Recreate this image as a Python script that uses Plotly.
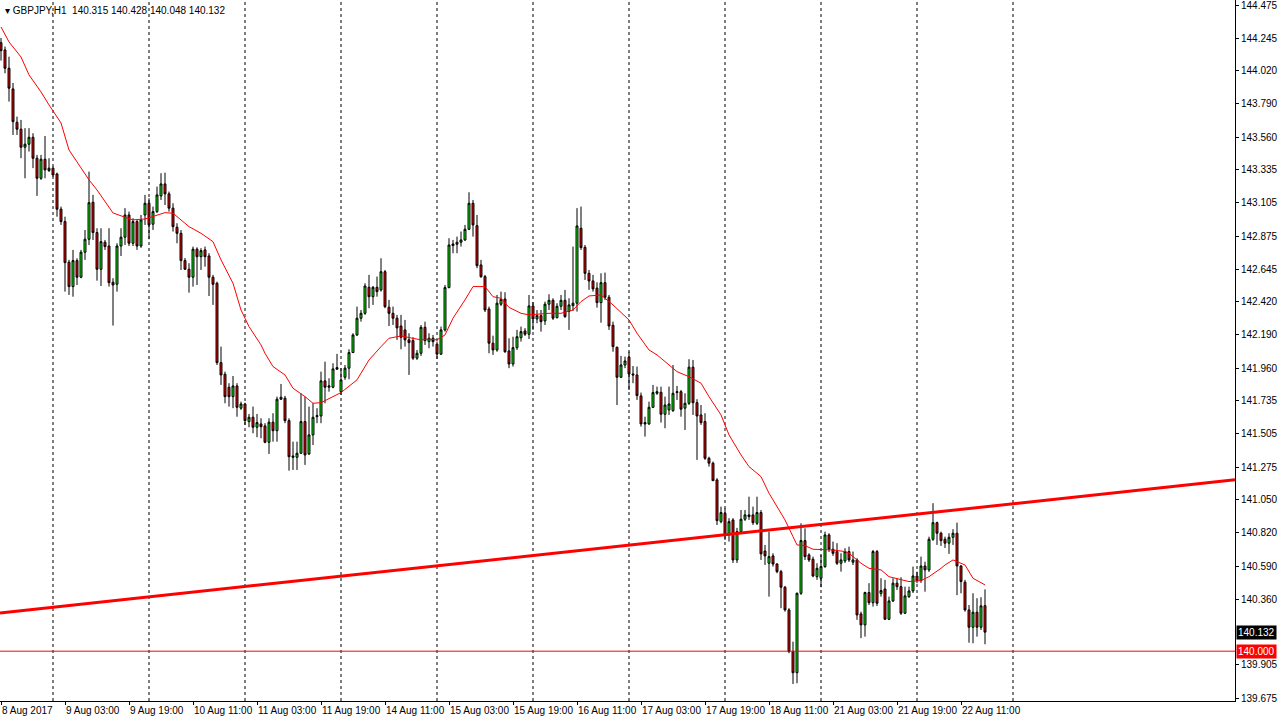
import plotly.graph_objects as go
import pandas as pd

# ---------------- data (GBPJPY, H1) ----------------
opens = [
    144.214, 144.164, 144.037, 143.894, 143.663, 143.615, 143.490, 143.511, 143.559, 143.414,
    143.275, 143.407, 143.328, 143.345, 143.305, 143.061, 142.975, 142.694, 142.525, 142.705,
    142.590, 142.763, 142.853, 143.109, 142.899, 142.645, 142.832, 142.806, 142.555, 142.541,
    142.806, 142.867, 143.021, 142.825, 142.975, 142.806, 143.021, 143.102, 142.957, 143.044,
    143.153, 143.236, 143.167, 143.068, 142.936, 142.894, 142.705, 142.645, 142.590, 142.784,
    142.732, 142.779, 142.737, 142.590, 142.548, 141.998, 141.918, 141.828, 141.763, 141.837,
    141.683, 141.712, 141.590, 141.620, 141.551, 141.574, 141.560, 141.447, 141.586, 141.527,
    141.745, 141.752, 141.597, 141.352, 141.343, 141.371, 141.590, 141.366, 141.498, 141.624,
    141.629, 141.872, 141.828, 141.828, 141.964, 141.797, 141.897, 141.960, 142.068, 142.190,
    142.306, 142.340, 142.520, 142.455, 142.520, 142.502, 142.628, 142.382, 142.340, 142.306,
    142.252, 142.225, 142.156, 142.151, 142.029, 142.063, 142.243, 142.144, 142.167, 142.126,
    142.057, 142.225, 142.518, 142.809, 142.818, 142.832, 142.848, 142.922, 143.102, 142.947,
    142.675, 142.594, 142.370, 142.133, 142.086, 142.403, 142.439, 142.079, 141.989, 142.102,
    142.171, 142.218, 142.195, 142.391, 142.301, 142.324, 142.287, 142.403, 142.430, 142.310,
    142.389, 142.430, 142.352, 142.393, 142.410, 142.929, 142.797, 142.617, 142.564, 142.514,
    142.414, 142.552, 142.451, 142.257, 142.105, 141.897, 141.982, 142.036, 141.920, 141.913,
    141.768, 141.583, 141.574, 141.689, 141.786, 141.793, 141.641, 141.671, 141.666, 141.791,
    141.797, 141.683, 141.717, 141.967, 141.721, 141.636, 141.590, 141.336, 141.302, 141.186,
    140.897, 140.955, 140.805, 140.909, 140.632, 140.828, 140.914, 140.932, 140.944, 140.886,
    140.960, 140.694, 140.609, 140.660, 140.604, 140.551, 140.443, 140.286, 139.997, 139.851,
    140.401, 140.766, 140.667, 140.637, 140.516, 140.505, 140.586, 140.805, 140.706, 140.690,
    140.609, 140.625, 140.690, 140.616, 140.632, 140.258, 140.182, 140.406, 140.336, 140.690,
    140.400, 140.431, 140.221, 140.348, 140.471, 140.447, 140.263, 140.378, 140.417, 140.521,
    140.489, 140.590, 140.563, 140.775, 140.890, 140.817, 140.775, 140.748, 140.789, 140.817,
    140.590, 140.478, 140.286, 140.166, 140.270, 140.166, 140.315,
]
highs = [
    144.247, 144.187, 144.117, 143.935, 143.702, 143.679, 143.622, 143.622, 143.587, 143.437,
    143.437, 143.568, 143.414, 143.356, 143.314, 143.079, 143.009, 142.710, 142.779, 142.721,
    142.779, 142.917, 143.321, 143.160, 142.929, 142.929, 142.848, 142.929, 142.583, 142.825,
    142.929, 143.068, 143.044, 142.998, 142.987, 143.021, 143.160, 143.137, 143.079, 143.217,
    143.310, 143.314, 143.183, 143.102, 142.964, 142.917, 142.723, 142.687, 142.802, 142.797,
    142.791, 142.802, 142.756, 142.606, 142.559, 142.109, 141.936, 141.856, 141.906, 141.856,
    141.728, 141.721, 141.643, 141.694, 141.643, 141.613, 141.579, 141.613, 141.648, 141.763,
    141.851, 141.768, 141.613, 141.451, 141.451, 141.786, 141.763, 141.694, 141.717, 141.683,
    141.936, 142.005, 141.890, 141.994, 142.059, 141.960, 141.982, 142.091, 142.202, 142.386,
    142.363, 142.548, 142.606, 142.529, 142.594, 142.721, 142.640, 142.433, 142.386, 142.329,
    142.329, 142.294, 142.202, 142.174, 142.086, 142.259, 142.282, 142.202, 142.190, 142.144,
    142.248, 142.536, 142.860, 142.848, 142.871, 142.906, 142.952, 143.178, 143.125, 143.021,
    142.710, 142.606, 142.386, 142.185, 142.467, 142.490, 142.486, 142.167, 142.178, 142.225,
    142.248, 142.237, 142.467, 142.417, 142.363, 142.363, 142.421, 142.472, 142.444, 142.410,
    142.467, 142.502, 142.444, 142.802, 143.068, 143.079, 142.813, 142.640, 142.606, 142.555,
    142.617, 142.622, 142.467, 142.282, 142.109, 142.045, 142.040, 142.074, 141.975, 141.971,
    141.791, 141.624, 141.728, 141.844, 141.832, 141.832, 141.763, 141.832, 141.982, 141.837,
    141.809, 141.786, 142.022, 142.017, 141.745, 141.705, 141.648, 141.347, 141.313, 141.198,
    141.001, 140.990, 140.921, 140.921, 140.854, 140.978, 140.978, 141.070, 141.001, 141.070,
    140.978, 140.736, 140.828, 140.678, 140.609, 140.563, 140.452, 140.298, 140.066, 140.406,
    140.886, 140.851, 140.678, 140.655, 140.609, 140.667, 140.828, 140.817, 140.759, 140.748,
    140.678, 140.713, 140.724, 140.690, 140.644, 140.274, 140.412, 140.471, 140.701, 140.701,
    140.505, 140.494, 140.378, 140.505, 140.505, 140.512, 140.447, 140.447, 140.586, 140.551,
    140.655, 140.620, 140.793, 141.025, 140.897, 140.828, 140.793, 140.817, 140.845, 140.890,
    140.597, 140.494, 140.320, 140.401, 140.367, 140.374, 140.428,
]
lows = [
    144.090, 144.002, 143.806, 143.575, 143.575, 143.414, 143.275, 143.460, 143.345, 143.153,
    143.264, 143.275, 143.319, 143.286, 143.009, 142.952, 142.490, 142.467, 142.455, 142.536,
    142.583, 142.710, 142.813, 142.848, 142.566, 142.529, 142.779, 142.525, 142.255, 142.490,
    142.737, 142.813, 142.806, 142.806, 142.779, 142.793, 142.952, 142.853, 142.917, 143.035,
    143.125, 143.090, 143.044, 142.906, 142.825, 142.640, 142.640, 142.483, 142.525, 142.536,
    142.640, 142.663, 142.460, 142.398, 141.982, 141.844, 141.717, 141.694, 141.683, 141.624,
    141.671, 141.567, 141.551, 141.509, 141.482, 141.475, 141.440, 141.366, 141.451, 141.451,
    141.740, 141.579, 141.250, 141.255, 141.255, 141.366, 141.290, 141.359, 141.428, 141.579,
    141.579, 141.717, 141.797, 141.821, 141.948, 141.775, 141.879, 141.883, 142.066, 142.183,
    142.282, 142.329, 142.375, 142.398, 142.455, 142.490, 142.375, 142.252, 142.259, 142.156,
    142.091, 142.109, 141.913, 142.017, 142.017, 142.045, 142.121, 142.098, 142.109, 142.024,
    142.052, 142.213, 142.513, 142.756, 142.756, 142.802, 142.841, 142.917, 142.871, 142.652,
    142.585, 142.349, 142.063, 142.052, 142.074, 142.391, 142.066, 141.960, 141.971, 142.086,
    142.144, 142.183, 142.162, 142.225, 142.271, 142.213, 142.259, 142.363, 142.294, 142.304,
    142.363, 142.308, 142.225, 142.356, 142.352, 142.779, 142.571, 142.502, 142.490, 142.379,
    142.275, 142.433, 142.225, 142.074, 141.705, 141.892, 141.960, 141.809, 141.856, 141.740,
    141.555, 141.486, 141.567, 141.685, 141.775, 141.583, 141.544, 141.636, 141.657, 141.740,
    141.624, 141.532, 141.705, 141.636, 141.325, 141.567, 141.325, 141.278, 141.179, 140.874,
    140.886, 140.771, 140.759, 140.611, 140.611, 140.817, 140.902, 140.909, 140.874, 140.874,
    140.632, 140.597, 140.378, 140.586, 140.540, 140.298, 140.274, 139.986, 139.773, 139.778,
    140.390, 140.632, 140.618, 140.512, 140.494, 140.443, 140.577, 140.687, 140.660, 140.597,
    140.551, 140.611, 140.618, 140.597, 140.217, 140.090, 140.101, 140.320, 140.309, 140.313,
    140.378, 140.217, 140.217, 140.341, 140.424, 140.251, 140.258, 140.369, 140.403, 140.471,
    140.473, 140.412, 140.549, 140.764, 140.736, 140.729, 140.715, 140.674, 140.736, 140.388,
    140.401, 140.274, 140.059, 140.055, 140.101, 140.147, 140.048,
]
closes = [
    144.159, 144.037, 143.899, 143.667, 143.615, 143.490, 143.511, 143.559, 143.414, 143.275,
    143.407, 143.333, 143.345, 143.298, 143.061, 142.975, 142.691, 142.525, 142.705, 142.590,
    142.763, 142.853, 143.106, 142.899, 142.645, 142.836, 142.802, 142.552, 142.536, 142.806,
    142.867, 143.021, 142.825, 142.975, 142.806, 142.987, 143.102, 142.952, 143.044, 143.160,
    143.236, 143.167, 143.068, 142.940, 142.894, 142.705, 142.645, 142.590, 142.784, 142.732,
    142.774, 142.732, 142.590, 142.541, 141.998, 141.913, 141.763, 141.763, 141.837, 141.689,
    141.712, 141.597, 141.620, 141.551, 141.583, 141.555, 141.447, 141.586, 141.527, 141.745,
    141.759, 141.597, 141.347, 141.343, 141.371, 141.590, 141.359, 141.498, 141.620, 141.631,
    141.872, 141.828, 141.837, 141.955, 141.953, 141.879, 141.960, 142.068, 142.190, 142.306,
    142.340, 142.529, 142.455, 142.520, 142.490, 142.628, 142.386, 142.340, 142.306, 142.239,
    142.174, 142.156, 142.137, 142.029, 142.063, 142.243, 142.151, 142.167, 142.144, 142.057,
    142.225, 142.518, 142.813, 142.820, 142.832, 142.848, 142.922, 143.102, 142.952, 142.670,
    142.594, 142.363, 142.133, 142.086, 142.410, 142.437, 142.074, 141.989, 142.102, 142.178,
    142.213, 142.195, 142.391, 142.301, 142.324, 142.282, 142.403, 142.430, 142.306, 142.389,
    142.430, 142.317, 142.398, 142.410, 142.945, 142.795, 142.617, 142.564, 142.509, 142.414,
    142.552, 142.451, 142.252, 142.109, 141.897, 141.982, 142.010, 141.920, 141.913, 141.770,
    141.574, 141.574, 141.689, 141.791, 141.797, 141.641, 141.705, 141.712, 141.786, 141.797,
    141.676, 141.717, 141.967, 141.721, 141.629, 141.583, 141.336, 141.302, 141.181, 140.904,
    140.960, 140.805, 140.897, 140.632, 140.828, 140.914, 140.944, 140.944, 140.890, 140.960,
    140.674, 140.660, 140.655, 140.604, 140.551, 140.443, 140.286, 139.997, 139.851, 140.401,
    140.766, 140.655, 140.632, 140.521, 140.574, 140.586, 140.805, 140.706, 140.678, 140.609,
    140.632, 140.690, 140.632, 140.632, 140.251, 140.182, 140.406, 140.336, 140.690, 140.332,
    140.420, 140.221, 140.348, 140.471, 140.447, 140.263, 140.383, 140.417, 140.521, 140.489,
    140.590, 140.563, 140.775, 140.890, 140.817, 140.766, 140.748, 140.789, 140.817, 140.590,
    140.482, 140.286, 140.166, 140.270, 140.166, 140.314, 140.132,
]

# moving average: (bar number, value)
ma_bar = [0, 2, 5, 7, 10, 12, 15, 17, 20, 22, 24, 26, 28, 31, 33, 36, 38, 41, 43, 45, 47, 50, 53, 55, 58,
          60, 62, 65, 66, 68, 71, 73, 76, 78, 80, 83, 85, 89, 92, 95, 97, 100, 102, 105, 107, 109, 111,
          113, 116, 118, 121, 123, 125, 127, 130, 132, 137, 140, 143, 145, 147, 150, 153, 157, 159, 162,
          164, 167, 169, 172, 175, 177, 180, 182, 185, 187, 190, 192, 196, 198, 199, 201, 203, 208, 211,
          212, 215, 217, 220, 222, 225, 227, 230, 232, 235, 236, 238, 241, 243, 246]
ma_val = [144.323, 144.219, 144.115, 143.991, 143.873, 143.783, 143.658, 143.471, 143.347, 143.264,
          143.194, 143.113, 143.035, 143.005, 142.987, 142.993, 143.009, 143.037, 143.033, 142.987,
          142.940, 142.894, 142.836, 142.710, 142.548, 142.363, 142.248, 142.121, 142.063, 141.971,
          141.913, 141.821, 141.763, 141.717, 141.721, 141.763, 141.791, 141.879, 142.017, 142.109,
          142.167, 142.183, 142.174, 142.156, 142.160, 142.156, 142.190, 142.306, 142.433, 142.525,
          142.525, 142.455, 142.444, 142.381, 142.340, 142.329, 142.340, 142.340, 142.363, 142.421,
          142.460, 142.467, 142.398, 142.294, 142.202, 142.086, 142.052, 141.982, 141.936, 141.901,
          141.856, 141.763, 141.636, 141.498, 141.359, 141.278, 141.209, 141.094, 140.909, 140.793,
          140.736, 140.731, 140.706, 140.701, 140.690, 140.678, 140.609, 140.574, 140.563, 140.516,
          140.494, 140.482, 140.489, 140.516, 140.574, 140.597, 140.632, 140.597, 140.505, 140.459]

# trend line anchors (first bar, last bar) and horizontal level
trend_prices = [140.266, 141.000]
level_price = 140.000

y_tick_vals = [144.475, 144.245, 144.020, 143.790, 143.560, 143.335, 143.105, 142.875, 142.645,
               142.420, 142.190, 141.960, 141.735, 141.505, 141.275, 141.050, 140.820, 140.590,
               140.360, 139.905, 139.675]
y_tick_text = ["%.3f" % v for v in y_tick_vals]

x_tick_times = ["2017-08-08 11:00", "2017-08-09 03:00", "2017-08-09 19:00", "2017-08-10 11:00",
                "2017-08-11 03:00", "2017-08-11 19:00", "2017-08-14 11:00", "2017-08-15 03:00",
                "2017-08-15 19:00", "2017-08-16 11:00", "2017-08-17 03:00", "2017-08-17 19:00",
                "2017-08-18 11:00", "2017-08-21 03:00", "2017-08-21 19:00", "2017-08-22 11:00"]
x_tick_text = ["8 Aug 2017", "9 Aug 03:00", "9 Aug 19:00", "10 Aug 11:00", "11 Aug 03:00",
               "11 Aug 19:00", "14 Aug 11:00", "15 Aug 03:00", "15 Aug 19:00", "16 Aug 11:00",
               "17 Aug 03:00", "17 Aug 19:00", "18 Aug 11:00", "21 Aug 03:00", "21 Aug 19:00",
               "22 Aug 11:00"]
separator_days = ["2017-08-09", "2017-08-10", "2017-08-11", "2017-08-14", "2017-08-15",
                  "2017-08-16", "2017-08-17", "2017-08-18", "2017-08-21", "2017-08-22", "2017-08-23"]

# ---------------- bar timeline (hourly, trading days only) ----------------
bar_times = pd.date_range("2017-08-08 11:00", "2017-08-25 23:00", freq="h")
bar_times = bar_times[bar_times.dayofweek < 5]
pos = {t: i for i, t in enumerate(bar_times)}
n = len(opens)
bars = list(range(n))

x_lo, x_hi = -0.25, 308.5
y_lo, y_hi = 139.6551, 144.5096

fig = go.Figure()

fig.add_trace(go.Candlestick(
    x=bars, open=opens, high=highs, low=lows, close=closes,
    increasing=dict(line=dict(color="black", width=1), fillcolor="#00FF00"),
    decreasing=dict(line=dict(color="black", width=1), fillcolor="#FF0000"),
    whiskerwidth=0, hoverinfo="skip", showlegend=False,
))

fig.add_trace(go.Scatter(x=ma_bar, y=ma_val, mode="lines",
                         line=dict(color="#FF0000", width=1), hoverinfo="skip", showlegend=False))

slope = (trend_prices[1] - trend_prices[0]) / (n - 1)
fig.add_trace(go.Scatter(
    x=[x_lo, x_hi],
    y=[trend_prices[0] + slope * x_lo, trend_prices[0] + slope * x_hi],
    mode="lines", line=dict(color="#FF0000", width=3), hoverinfo="skip", showlegend=False))

shapes = []
for d in separator_days:
    xi = pos[pd.Timestamp(d + " 00:00")]
    shapes.append(dict(type="line", xref="x", yref="paper", x0=xi, x1=xi, y0=0, y1=1,
                       line=dict(color="black", width=1, dash="3px,3px"), layer="below"))
shapes.append(dict(type="line", xref="paper", yref="y", x0=0, x1=1, y0=level_price, y1=level_price,
                   line=dict(color="#FF0000", width=1)))

font = "Liberation Sans, Arial, sans-serif"
annotations = [
    dict(xref="paper", yref="paper", x=0, y=1, xanchor="left", yanchor="top", xshift=3, yshift=-3,
         text="▾ GBPJPY,H1  140.315 140.428 140.048 140.132", showarrow=False,
         font=dict(family=font, size=10, color="black")),
    dict(xref="paper", yref="y", x=1, y=closes[-1], xanchor="left", yanchor="middle", xshift=1,
         text="%.3f" % closes[-1], showarrow=False, bgcolor="black", borderpad=1,
         font=dict(family=font, size=10, color="white")),
    dict(xref="paper", yref="y", x=1, y=level_price, xanchor="left", yanchor="middle", xshift=1,
         text="%.3f" % level_price, showarrow=False, bgcolor="#FF0000", borderpad=1,
         font=dict(family=font, size=10, color="white")),
]

fig.update_layout(
    width=1281, height=726,
    margin=dict(l=0, r=46, t=0, b=25, autoexpand=False),
    paper_bgcolor="white", plot_bgcolor="white",
    showlegend=False, shapes=shapes, annotations=annotations,
    xaxis=dict(range=[x_lo, x_hi], showgrid=False, zeroline=False, showline=True,
               linecolor="black", linewidth=1, rangeslider=dict(visible=False),
               tickmode="array", tickvals=[pos[pd.Timestamp(t)] for t in x_tick_times],
               ticktext=x_tick_text, ticks="outside", ticklen=3, tickcolor="black",
               ticklabelposition="outside right", tickangle=0, automargin=False,
               ticklabeloverflow="allow",
               tickfont=dict(family=font, size=10, color="black"), fixedrange=True),
    yaxis=dict(range=[y_lo, y_hi], side="right", showgrid=False, zeroline=False, showline=True,
               linecolor="black", linewidth=1, tickmode="array", tickvals=y_tick_vals,
               ticktext=y_tick_text, ticks="outside", ticklen=3, tickcolor="black", automargin=False,
               ticklabeloverflow="allow",
               tickfont=dict(family=font, size=10, color="black"), fixedrange=True),
)

fig.write_html("out.html", config={"displayModeBar": False},
               post_script="document.body.style.margin='0';document.body.style.overflow='hidden';")
